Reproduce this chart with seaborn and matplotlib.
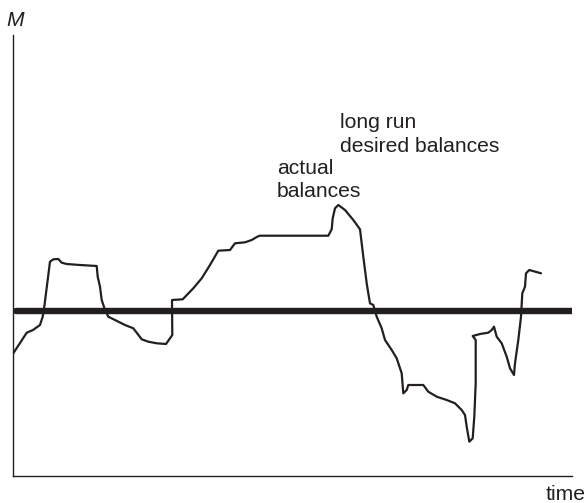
import matplotlib
matplotlib.use("Agg")
import matplotlib.pyplot as plt
import seaborn as sns
import pandas as pd

# actual balances path (time, M)
time = [0.3, 7, 13.7, 20, 27, 29.7, 31.3, 37, 40.3, 45.3, 48.7, 53.7, 67, 83.7, 84.7, 87, 88.7, 92, 95.3,
        102, 112, 120.3, 123.7, 128.7, 135.3, 143.7, 153, 157, 159.3, 159, 169.7, 180.3, 188.7, 197, 205.3,
        217, 222, 232, 238.7, 244.3, 247, 315.3, 318.7, 319.7, 322, 325.3, 332, 340.3, 347, 350.3, 353.7,
        355.3, 357, 360.3, 363.7, 368.7, 372, 378.7, 383.7, 388.7, 390.3, 393.7, 395.3, 410.3, 415.3, 423.7,
        433.7, 442, 448.7, 452, 453.7, 456.3, 459.7, 461.3, 462.7, 462.7, 459.7, 467, 475.3, 478.7, 481,
        483.7, 488.7, 493.7, 497, 501, 502, 505.3, 508, 509.3, 512, 513, 516.3, 528]
actual = [122.7, 133, 143.3, 146, 151, 159.3, 169.3, 214.3, 216.7, 217, 213.3, 212, 211, 210, 199.3, 189.3,
          176, 166, 159.3, 156, 151, 147.7, 143.3, 136.7, 134.3, 132.7, 132, 137.7, 141, 176, 176.7, 187.7,
          197.7, 211, 225.3, 226, 232.7, 233.7, 236, 239.3, 240.3, 240.3, 246.7, 257.7, 267.7, 271, 266, 256,
          246.7, 219.3, 192.7, 182.7, 172.7, 171, 159.3, 147.7, 136, 126, 117.7, 102.7, 82.7, 86, 91, 91,
          84.3, 79.3, 76, 72.7, 66, 61, 49.3, 34.3, 37.7, 59.3, 92.7, 136, 140, 142, 143.3, 146, 149.3,
          139.3, 132.7, 119.3, 107.7, 101, 112.7, 136, 159.3, 182.7, 189.3, 202.7, 206, 202.7]

# long run desired balances (flat)
desired_time = [3, 559]
desired = [165, 165]

label_actual = "actual\nbalances"
label_desired = "long run\ndesired balances"

sns.set_style("white")
plt.rcParams['font.family'] = ['Liberation Sans', 'DejaVu Sans']

W, H = 587, 503
fig = plt.figure(figsize=(W / 100, H / 100), dpi=100)
ax = fig.add_axes([13 / W, (H - 476) / H, (572 - 13) / W, (476 - 35) / H])

df_a = pd.DataFrame({"time": time, "M": actual})
df_d = pd.DataFrame({"time": desired_time, "M": desired})

sns.lineplot(data=df_d, x="time", y="M", sort=False, estimator=None, color="#231f20", linewidth=4.6, ax=ax)
sns.lineplot(data=df_a, x="time", y="M", sort=False, estimator=None, color="#231f20", linewidth=1.6, ax=ax)

ax.set_xlim(0, 559)
ax.set_ylim(0, 441)
ax.set_xticks([])
ax.set_yticks([])
ax.set_xlabel("")
ax.set_ylabel("")
for s in ["top", "right"]:
    ax.spines[s].set_visible(False)
for s in ["left", "bottom"]:
    ax.spines[s].set_color("#231f20")
    ax.spines[s].set_linewidth(1.0)

fs = 15.2
fig.text(6 / W, 1 - 26.5 / H, "M", fontsize=fs, style="italic", color="#231f20", va="baseline", ha="left")
fig.text(585.5 / W, 1 - 500 / H, "time", fontsize=fs, color="#231f20", va="baseline", ha="right")
fig.text(340 / W, 1 - 152 / H, label_desired, fontsize=fs, color="#231f20", va="baseline", ha="left",
         linespacing=1.3)
fig.text(277 / W, 1 - 197 / H, label_actual, fontsize=fs, color="#231f20", va="baseline", ha="left",
         linespacing=1.3)

fig.savefig("out.png", dpi=100)
